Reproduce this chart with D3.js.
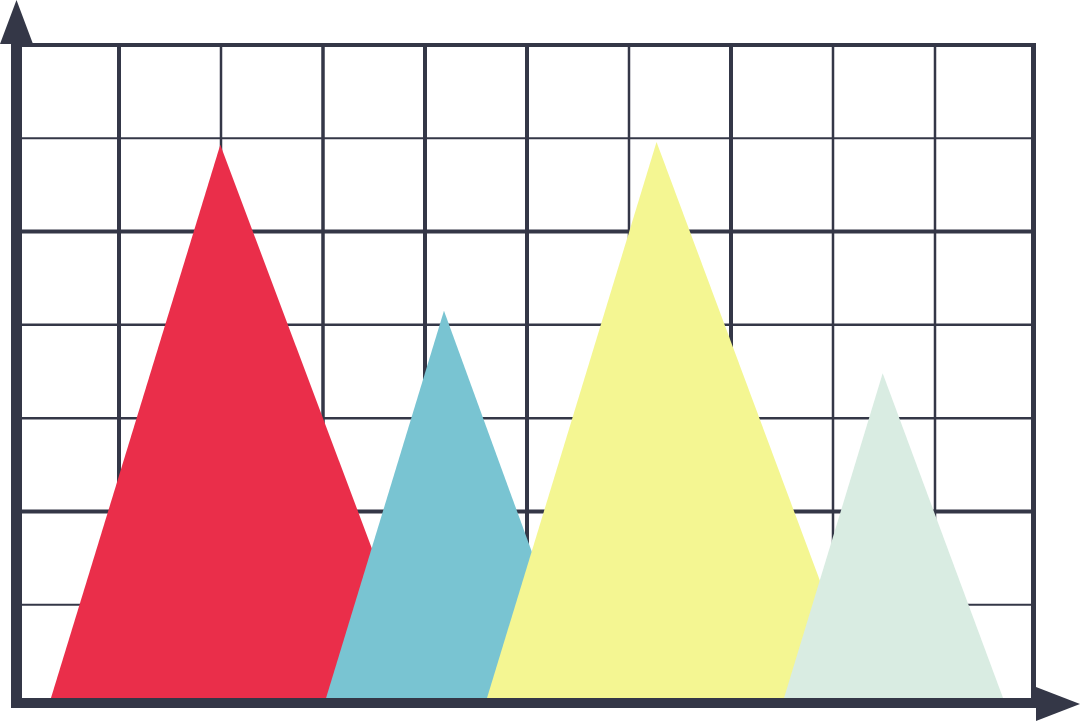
<!DOCTYPE html>
<html>
<head>
<meta charset="utf-8">
<script src="https://cdn.jsdelivr.net/npm/d3@7"></script>
<style>
  html, body { margin: 0; padding: 0; background: #fff; }
  svg { display: block; }
</style>
</head>
<body>
<div id="container"></div>
<script>
/* DATA, in grid units (10 columns x 7 rows) */
const peaks = ["red", "blue", "yellow", "green"];
const peakX = [1.993, 4.186, 6.27, 8.487];   // apex position
const peakY = [5.93, 4.15, 5.96, 3.48];      // apex height
const baseLeft = [0.333, 3.03, 4.608, 7.52];
const baseRight = [4.03, 5.57, 8.30, 9.667];
const peakColors = ["#ea2e4a", "#79c4d2", "#f4f692", "#d9ece2"];

const xTicks = [1, 2, 3, 4, 5, 6, 7, 8, 9];
const yTicks = [1, 2, 3, 4, 5, 6];

/* CONSTANTS */
const width = 1080;
const height = 721;
const ink = "#343747";
// grid lines are not all the same weight in the picture
const xTickWidth = [4, 2.5, 3.5, 4, 4, 2.5, 4, 2.5, 2.5];
const yTickWidth = [2, 4, 2.5, 2.5, 4, 2];
const rightEdge = 1033.5; // last column is a little narrower than the others

/* SCALES */
const xScale = d3.scaleLinear().domain([0, 10]).range([17, 1037]);
const yScale = d3.scaleLinear().domain([0, 7]).range([698, 45]);

const svg = d3.select("#container")
  .append("svg")
  .attr("width", width)
  .attr("height", height);

// grid
const grid = svg.append("g").attr("stroke", ink);

grid.selectAll("line.vx")
  .data(xTicks)
  .join("line")
  .attr("class", "vx")
  .attr("x1", d => xScale(d))
  .attr("x2", d => xScale(d))
  .attr("y1", yScale(7))
  .attr("y2", yScale(0))
  .attr("stroke-width", (d, i) => xTickWidth[i]);

grid.selectAll("line.hy")
  .data(yTicks)
  .join("line")
  .attr("class", "hy")
  .attr("x1", xScale(0))
  .attr("x2", rightEdge)
  .attr("y1", d => yScale(d))
  .attr("y2", d => yScale(d))
  .attr("stroke-width", (d, i) => yTickWidth[i]);

// peaks (drawn left to right so each covers the previous one)
svg.selectAll("path.peak")
  .data(peaks)
  .join("path")
  .attr("class", "peak")
  .attr("fill", (d, i) => peakColors[i])
  .attr("d", (d, i) => d3.line()([
    [xScale(baseLeft[i]), yScale(0)],
    [xScale(peakX[i]), yScale(peakY[i])],
    [xScale(baseRight[i]), yScale(0)]
  ]) + "Z");

// frame: top and right border
svg.append("line")
  .attr("x1", 22).attr("x2", rightEdge + 2.5)
  .attr("y1", yScale(7)).attr("y2", yScale(7))
  .attr("stroke", ink).attr("stroke-width", 4);

svg.append("line")
  .attr("x1", rightEdge).attr("x2", rightEdge)
  .attr("y1", 43).attr("y2", yScale(0))
  .attr("stroke", ink).attr("stroke-width", 5);

// axes with arrow heads
svg.append("line")
  .attr("x1", 16.5).attr("x2", 16.5)
  .attr("y1", 40).attr("y2", 708)
  .attr("stroke", ink).attr("stroke-width", 11);

svg.append("line")
  .attr("x1", 11).attr("x2", 1040)
  .attr("y1", 703).attr("y2", 703)
  .attr("stroke", ink).attr("stroke-width", 10);

svg.append("path")
  .attr("fill", ink)
  .attr("d", "M16.5,0 L33,44 L0,44 Z");

svg.append("path")
  .attr("fill", ink)
  .attr("d", "M1080,704 L1036,721 L1036,687 Z");
</script>
</body>
</html>
